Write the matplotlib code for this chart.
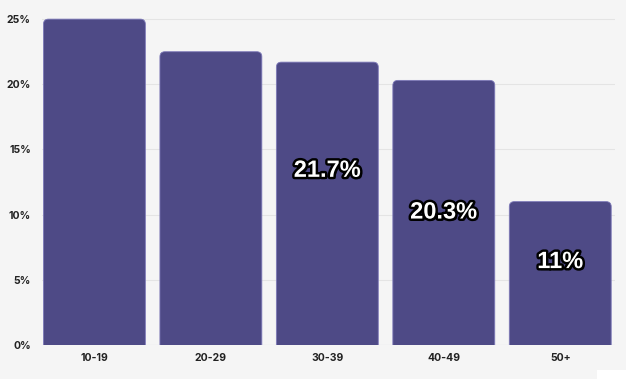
import matplotlib
matplotlib.use("Agg")
import matplotlib.pyplot as plt
import matplotlib.patheffects as pe
from matplotlib.patches import FancyBboxPatch, Rectangle

# data
age_groups = ["10-19", "20-29", "30-39", "40-49", "50+"]
shares = [25.0, 22.5, 21.7, 20.3, 11.0]
bar_labels = ["", "", "21.7%", "20.3%", "11%"]
label_y = [0, 0, 13.4, 10.2, 6.4]
yticks = [0, 5, 10, 15, 20, 25]

bg = "#f5f5f5"
bar_color = "#4e4a86"

fig = plt.figure(figsize=(6.26, 3.79), dpi=100, facecolor=bg)
ax = fig.add_axes([42 / 626, 1 - 345 / 379, (615 - 42) / 626, (345 - 10) / 379])
ax.set_facecolor(bg)

x = list(range(len(age_groups)))
bars = ax.bar(x, shares, width=0.875, color=bar_color, visible=False)
ax.set_xlim(-0.45, 4.47)
ax.set_ylim(0, 25.7)

# rounded tops: compensate for different px per unit in x and y
px_x = (615 - 42) / (4.47 + 0.45)
px_y = (345 - 10) / 25.7
aspect = px_x / px_y
r = 5 / px_x
for b in bars:
    p = FancyBboxPatch((b.get_x(), -2), b.get_width(), b.get_height() + 2,
                       boxstyle=f"round,pad=0,rounding_size={r}",
                       mutation_aspect=aspect, facecolor=bar_color,
                       edgecolor="#7d79b8", linewidth=0.6, zorder=3,
                       clip_on=True)
    ax.add_patch(p)

for xi, lab, yy in zip(x, bar_labels, label_y):
    if lab:
        ax.text(xi, yy, lab, ha="center", va="center", color="white",
                fontsize=17, fontweight="bold", family="Liberation Sans",
                zorder=5,
                path_effects=[pe.withSimplePatchShadow(offset=(1.5, -1.5), shadow_rgbFace="black", alpha=0.8),
                              pe.Stroke(linewidth=3.5, foreground="black"),
                              pe.Normal()])

ax.set_yticks(yticks)
ax.set_yticklabels([f"{t}%" for t in yticks])
ax.set_xticks(x)
ax.set_xticklabels(age_groups)
for lbl in ax.get_xticklabels() + ax.get_yticklabels():
    lbl.set_fontweight("bold")
    lbl.set_fontsize(7.5)
    lbl.set_color("#222222")
    lbl.set_family("Inter")
ax.tick_params(axis="both", length=0)
ax.tick_params(axis="y", pad=8)
ax.tick_params(axis="x", pad=6)
ax.grid(axis="y", color="#e4e4e4", linewidth=0.8, zorder=0)
ax.set_axisbelow(True)
for s in ax.spines.values():
    s.set_visible(False)
ax.axhline(0, color="#dddde8", linewidth=0.8, zorder=2)

# white patch in the bottom right corner
fig.patches.append(Rectangle((597 / 626, 0), 1, 9 / 379, transform=fig.transFigure,
                             facecolor="white", edgecolor="none"))

fig.savefig("out.png", dpi=100, facecolor=bg)
